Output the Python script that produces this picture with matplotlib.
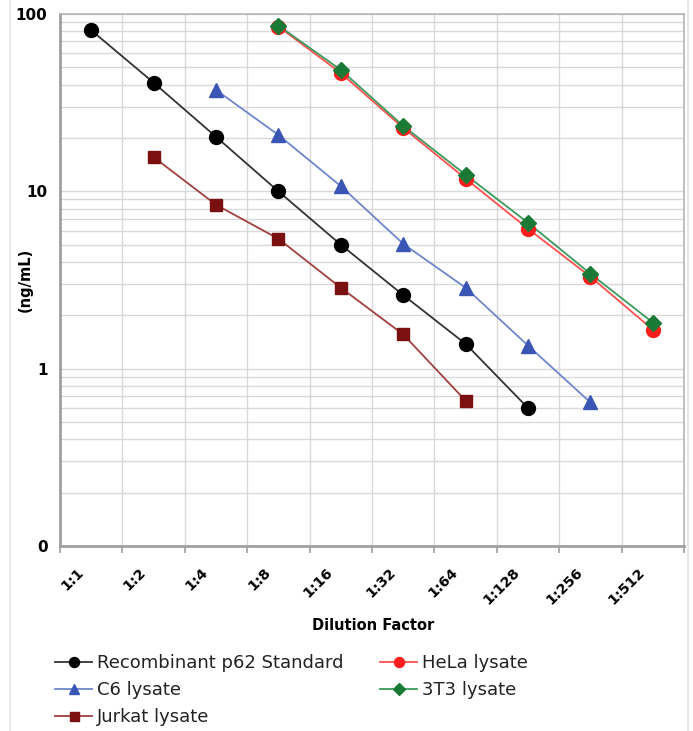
import matplotlib
matplotlib.use("Agg")
import matplotlib.pyplot as plt
from matplotlib.lines import Line2D
import matplotlib.transforms as mtransforms
import numpy as np

categories = ["1:1", "1:2", "1:4", "1:8", "1:16", "1:32", "1:64", "1:128", "1:256", "1:512"]

recomb_cats = ["1:1", "1:2", "1:4", "1:8", "1:16", "1:32", "1:64", "1:128"]
recomb_vals = [81, 41, 20.3, 10.0, 5.0, 2.6, 1.38, 0.60]

hela_cats = ["1:8", "1:16", "1:32", "1:64", "1:128", "1:256", "1:512"]
hela_vals = [85, 46.5, 22.8, 11.8, 6.15, 3.3, 1.66]

t3t3_cats = ["1:8", "1:16", "1:32", "1:64", "1:128", "1:256", "1:512"]
t3t3_vals = [86, 48.4, 23.4, 12.4, 6.65, 3.43, 1.82]

c6_cats = ["1:4", "1:8", "1:16", "1:32", "1:64", "1:128", "1:256"]
c6_vals = [37.3, 20.8, 10.7, 5.06, 2.86, 1.35, 0.645]

jurkat_cats = ["1:2", "1:4", "1:8", "1:16", "1:32", "1:64"]
jurkat_vals = [15.6, 8.4, 5.4, 2.86, 1.56, 0.66]

y_ticks = [0.1, 1, 10, 100]
y_tick_labels = ["0", "1", "10", "100"]

fig = plt.figure(figsize=(6.93, 7.31), dpi=100)
ax = fig.add_axes([60/693, 1 - 546/731, (684-60)/693, (546-14)/731])

idx = {c: i for i, c in enumerate(categories)}

series = [
    ("Recombinant p62 Standard", recomb_cats, recomb_vals, "o", "#000000", "#333333", 10),
    ("HeLa lysate", hela_cats, hela_vals, "o", "#FF1E1E", "#FF5050", 10),
    ("C6 lysate", c6_cats, c6_vals, "^", "#3A55B4", "#6F86CC", 10.5),
    ("3T3 lysate", t3t3_cats, t3t3_vals, "D", "#1A7A35", "#3C9A5C", 8),
    ("Jurkat lysate", jurkat_cats, jurkat_vals, "s", "#7A1010", "#A04040", 9),
]

handles = {}
draw_order = ["Recombinant p62 Standard", "C6 lysate", "Jurkat lysate", "HeLa lysate", "3T3 lysate"]
sdict = {s[0]: s for s in series}
for name in draw_order:
    n, cats, vals, mk, mc, lc, ms = sdict[name]
    xs = [idx[c] for c in cats]
    ax.plot(xs, vals, color=lc, lw=1.3, zorder=3)
    ax.plot(xs, vals, linestyle="none", marker=mk, ms=ms, color=mc, mec=mc, zorder=4)
    handles[n] = Line2D([], [], color=lc, lw=1.3, marker=mk, ms=ms*0.72, mfc=mc, mec=mc)

ax.set_yscale("log")
ax.set_ylim(0.1, 100)
ax.set_xlim(-0.5, len(categories) - 0.5)

ax.set_yticks(y_ticks)
ax.set_yticklabels(y_tick_labels, fontsize=11, fontweight="bold")
ax.yaxis.set_minor_locator(matplotlib.ticker.LogLocator(base=10, subs=np.arange(2, 10)))
ax.yaxis.set_minor_formatter(matplotlib.ticker.NullFormatter())
ax.tick_params(axis="y", which="both", length=0, pad=9)

# category tick labels, drawn as rotated text under each category
ax.set_xticks(range(len(categories)))
ax.set_xticklabels([])
ax.tick_params(axis="x", which="major", length=0, pad=0)
base = mtransforms.blended_transform_factory(ax.transData, ax.transAxes)
offset = mtransforms.ScaledTranslation(-10/100, -24/100, fig.dpi_scale_trans)
for i, c in enumerate(categories):
    ax.text(i, 0, c, transform=base + offset, rotation=45, rotation_mode="anchor",
            ha="right", va="center", fontsize=10.3, fontweight="bold", clip_on=False)
ax.set_xticks(np.arange(-0.5, len(categories)), minor=True)
ax.tick_params(axis="x", which="minor", length=5, color="#A0A0A0", width=1.2)

ax.grid(True, which="minor", axis="x", color="#D9D9D9", lw=1)
ax.grid(True, which="both", axis="y", color="#DADADA", lw=1)
ax.set_axisbelow(True)

for s in ["top", "right"]:
    ax.spines[s].set_color("#B5B5B5")
    ax.spines[s].set_linewidth(1.2)
for s in ["left", "bottom"]:
    ax.spines[s].set_color("#A0A0A0")
    ax.spines[s].set_linewidth(2)

fig.text(373/693, 1 - 625/731, "Dilution Factor", ha="center", va="center",
         fontsize=10.5, fontweight="bold")
fig.text(25/693, 1 - 280/731, "(ng/mL)", ha="center", va="center",
         rotation=90, fontsize=10.5, fontweight="bold")

order = ["Recombinant p62 Standard", "C6 lysate", "Jurkat lysate", "HeLa lysate", "3T3 lysate"]
leg = fig.legend([handles[n] for n in order], order, ncol=2,
                 loc="upper left", bbox_to_anchor=(55/693, 1 - 654/731),
                 frameon=False, fontsize=13, handlelength=2.05,
                 handletextpad=0.3, labelspacing=0.5, columnspacing=2.0,
                 borderaxespad=0, borderpad=0)
for t in leg.get_texts():
    t.set_color("#222222")

fig.add_artist(Line2D([10/693, 10/693], [0, 1], color="#E4E4E4", lw=1.2, transform=fig.transFigure))
fig.add_artist(Line2D([688/693, 688/693], [0, 1], color="#E4E4E4", lw=1.2, transform=fig.transFigure))

fig.savefig("out.png", dpi=100)
